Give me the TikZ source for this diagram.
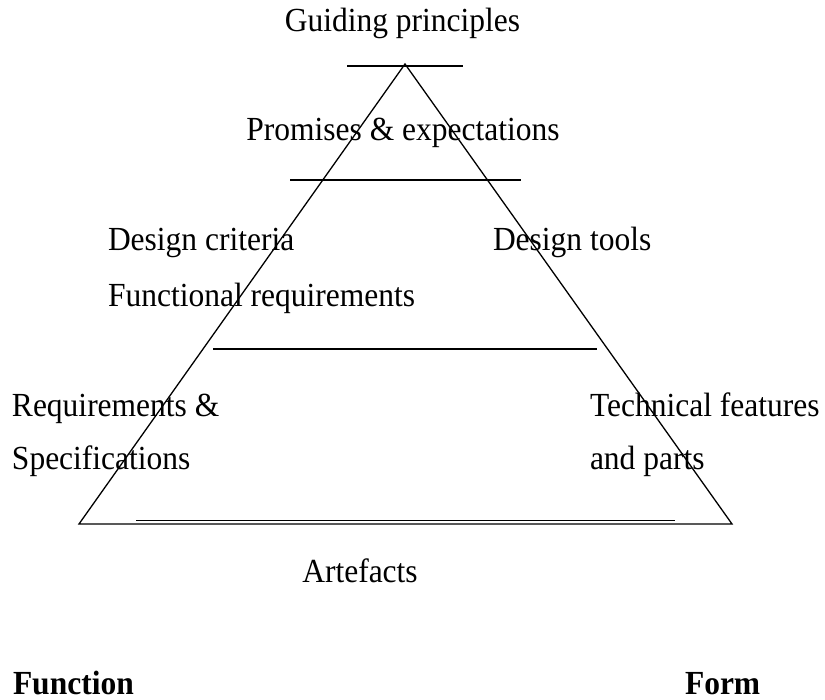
\documentclass[tikz,border=0pt]{standalone}
\usepackage{fontspec}
\setmainfont{Liberation Serif}
\newcommand\vstretch[1]{\scalebox{1}[1.07]{#1}}
\begin{document}
\begin{tikzpicture}[x=1pt,y=-1pt,
  lbl/.style={inner sep=0pt,outer sep=0pt,font=\fontsize{31.5}{38}\selectfont},
  lblb/.style={lbl,font=\fontsize{31.5}{38}\selectfont\bfseries},
  rule/.style={line width=1.3pt,line cap=butt},
  tri/.style={line width=1.3pt,line join=miter}]
\useasboundingbox (0,0) rectangle (825,700);
% triangle corners
\coordinate (apex) at (405,64);
\coordinate (bl) at (79,524);
\coordinate (br) at (732,524);
\draw[tri] (apex) -- (bl) -- (br) -- cycle;
% horizontal rules
\coordinate (r1a) at (347,66);   \coordinate (r1b) at (463,66);
\coordinate (r2a) at (290,180);  \coordinate (r2b) at (521,180);
\coordinate (r3a) at (213,349);  \coordinate (r3b) at (597,349);
\coordinate (r4a) at (136,520.2);\coordinate (r4b) at (675,520.2);
\draw[rule] (r1a) -- (r1b);
\draw[rule] (r2a) -- (r2b);
\draw[rule] (r3a) -- (r3b);
\draw[rule] (r4a) -- (r4b);
% labels
\node[lbl,anchor=base] (guide) at (402.5,32) {\vstretch{Guiding principles}};
\node[lbl,anchor=base] (prom) at (403,141) {\vstretch{Promises \& expectations}};
\node[lbl,anchor=base west] (dcrit) at (108,251) {\vstretch{Design criteria}};
\node[lbl,anchor=base west] (dtools) at (493,251) {\vstretch{Design tools}};
\node[lbl,anchor=base west] (freq) at (108,307) {\vstretch{Functional requirements}};
\node[lbl,anchor=base west] (req) at (12,417) {\vstretch{Requirements \&}};
\node[lbl,anchor=base west] (spec) at (12,470) {\vstretch{Specifications}};
\node[lbl,anchor=base west] (tech) at (590,417) {\vstretch{Technical features}};
\node[lbl,anchor=base west] (parts) at (590,470) {\vstretch{and parts}};
\node[lbl,anchor=base] (art) at (360,582) {\vstretch{Artefacts}};
\node[lblb,anchor=base west] (func) at (13,694) {\vstretch{Function}};
\node[lblb,anchor=base west] (form) at (685,694) {\vstretch{Form}};
\end{tikzpicture}
\end{document}
